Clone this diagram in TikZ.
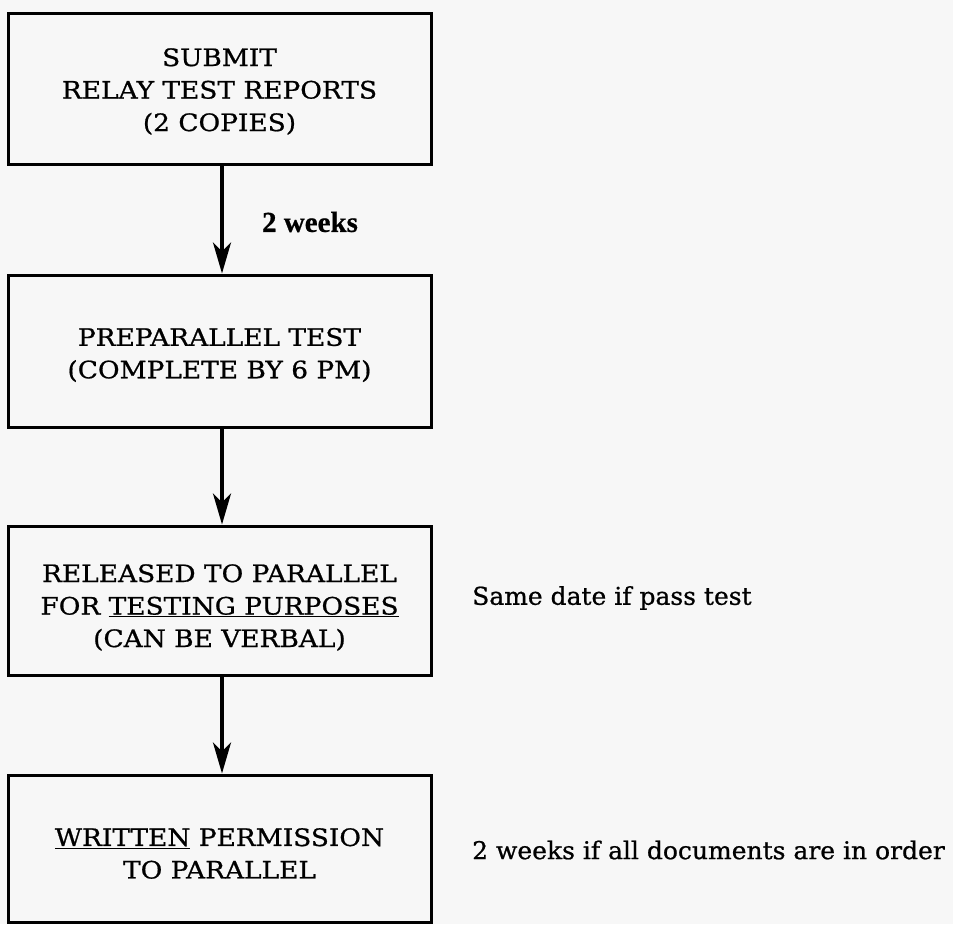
\documentclass[tikz,border=0pt]{standalone}
\usepackage{fontspec}
\setmainfont{DejaVu Serif}
\newfontfamily\boxfont{DejaVu Serif}[FakeStretch=1.1,FakeBold=0.8]
\newfontfamily\notefont{DejaVu Serif}[FakeStretch=1.02,FakeBold=0.8]
\newfontfamily\wkfont{Liberation Serif}[FakeBold=0.6]
\usetikzlibrary{arrows.meta}
\definecolor{bgc}{RGB}{247,247,247}
\tikzset{
  stepbox/.style={draw=black, line width=3pt, minimum width=423pt, inner sep=0pt},
  boxtext/.style={align=center, inner sep=0pt, font=\boxfont\fontsize{24}{32.5}\selectfont},
  flow/.style={line width=3.5pt, -{Stealth[length=31pt,width=18pt,inset=9pt]}},
  note/.style={anchor=west, inner sep=0pt, font=\notefont\fontsize{24.5}{30}\selectfont},
  wklabel/.style={inner sep=0pt, font=\wkfont\bfseries\fontsize{29}{34}\selectfont}
}
\begin{document}
\begin{tikzpicture}[x=1pt,y=-1pt]
\fill[bgc] (0,0) rectangle (953,924);
\useasboundingbox (0,0) rectangle (953,924);

\node[stepbox, minimum height=151pt] (b1) at (219.5,88.5) {};
\node[stepbox, minimum height=152pt] (b2) at (219.5,351) {};
\node[stepbox, minimum height=149pt] (b3) at (219.5,600.5) {};
\node[stepbox, minimum height=147pt] (b4) at (219.5,848.5) {};

\node[boxtext] (t1) at ([yshift=-3pt]b1.center) {SUBMIT\\RELAY TEST REPORTS\\(2 COPIES)};
\node[boxtext] (t2) at ([yshift=-4pt]b2.center) {PREPARALLEL TEST\\(COMPLETE BY 6 PM)};
\node[boxtext] (t3) at ([yshift=-7pt]b3.center) {RELEASED TO PARALLEL\\FOR \underline{TESTING PURPOSES}\\(CAN BE VERBAL)};
\node[boxtext] (t4) at ([yshift=-5pt]b4.center) {\underline{WRITTEN} PERMISSION\\TO PARALLEL};

\draw[flow] ([xshift=2.5pt]b1.south) -- ([xshift=2.5pt]b2.north);
\draw[flow] ([xshift=2.5pt]b2.south) -- ([xshift=2.5pt]b3.north);
\draw[flow] ([xshift=2.5pt]b3.south) -- ([xshift=2.5pt]b4.north);

\node[wklabel] (w2) at (310,222) {2 weeks};
\node[note] (n3) at (472,598) {Same date if pass test};
\node[note] (n4) at (472,850) {2 weeks if all documents are in order};
\end{tikzpicture}
\end{document}
